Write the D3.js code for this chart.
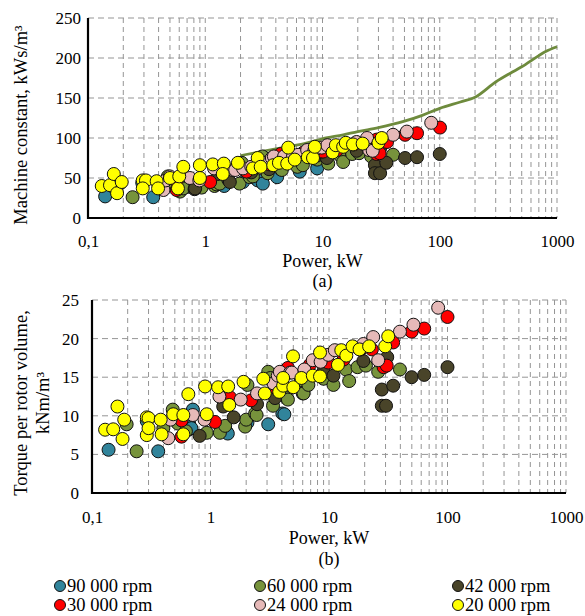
<!DOCTYPE html>
<html>
<head>
<meta charset="utf-8">
<script src="https://cdn.jsdelivr.net/npm/d3@7"></script>
<style>
  body { margin: 0; background: #fff; }
  svg { display: block; font-family: "Liberation Serif", "Times New Roman", serif; }
</style>
</head>
<body>
<svg id="chart" width="585" height="616" font-family="Liberation Serif, Times New Roman, serif"></svg>
<script>
// ---- series (rotational speed classes) ----
const seriesNames  = ["90 000 rpm", "60 000 rpm", "42 000 rpm", "30 000 rpm", "24 000 rpm", "20 000 rpm"];
const seriesColors = ["#31849B", "#77933C", "#494429", "#FF0000", "#E6B9B8", "#FFFF00"];

// ---- axis ticks ----
const xTickValues = [0.1, 1, 10, 100, 1000];
const xTickLabels = ["0,1", "1", "10", "100", "1000"];
const yTicksA = [0, 50, 100, 150, 200, 250];
const yTicksB = [0, 5, 10, 15, 20, 25];

// ---- (a) machine constant, kWs/m3 : [power kW, value] ----
const machA90 = [[0.14,27],[0.29,44],[0.36,26],[0.6,41],[0.69,49],[0.72,39],[1.45,40],[2.1,45],[2.8,47],[3.1,43],[4.1,51],[6.4,58],[9,62]];
const machA60 = [[0.19,44],[0.24,26],[0.4,41],[0.48,52],[0.53,45],[0.61,33],[0.65,37],[0.84,45],[0.93,38],[1.2,40],[1.25,42],[1.33,43],[1.96,43],[2.05,69],[2.4,51],[2.55,52],[3.07,77],[3.4,56],[4.4,61],[4.5,60],[5.8,72],[6.1,64],[6.7,69],[6.8,66],[9.0,73],[11.2,68],[13.9,79],[15,70],[17.9,80],[20.5,81],[26,77],[40,79]];
const machA42 = [[0.81,36],[0.82,37],[1.28,55],[1.57,48],[1.62,45],[2.47,57],[3.5,61],[9,78],[10.9,75],[19.6,84],[28,66],[28,56],[31,56],[31,87],[35,69],[50.6,75],[64,76],[100,80]];
const machA30 = [[0.57,35],[0.57,46],[1.1,45],[1.46,61],[2.2,59],[2.25,58],[3.55,67],[4.4,80],[6.9,82],[9.85,83],[10.1,83],[13.3,85],[18.5,92],[23,92],[28.9,80],[30.7,81],[29,98],[35.5,95],[50.6,104],[64,106],[100.5,113]];
const machA24 = [[0.44,35],[0.46,47],[0.5,52],[0.74,50],[0.89,47],[1.19,62],[1.73,60],[1.8,60],[2.1,62],[2.47,64],[3.4,70],[3.7,75],[3.85,77],[4.7,77],[5.6,77],[6.2,79],[7.4,85],[8.5,84],[9.85,88],[11,91],[19.5,95],[24,100],[25,85],[26.8,84],[40,104],[52.4,108],[84.6,119]];
const machA20 = [[0.131,40],[0.154,41],[0.166,55],[0.177,31],[0.194,45],[0.293,47],[0.312,47],[0.293,37],[0.385,46],[0.396,37],[0.5,50],[0.585,37],[0.6,52],[0.65,64],[0.9,66],[0.9,50],[1.16,67],[1.44,68],[1.41,55],[1.9,69],[2.8,75],[2.55,62],[2.97,64],[3.8,66],[4.25,69],[5.1,88],[5.0,68],[5.8,73],[7.5,76],[8.3,75],[8.6,89],[12.2,82],[13,91],[15,89],[15.8,94],[18.2,92],[22,93],[30,94],[32,100]];

// design line of machine constant, (a) : power kW / value
const limitPower = [2, 3, 5, 7, 10, 15, 20, 30, 50, 70, 100, 150, 200, 300, 400, 500, 700, 800, 1000];
const limitValue = [78, 83, 89, 93, 99, 104, 108, 113, 121, 128, 137, 145, 151, 170, 181, 189, 203, 208, 214];

// ---- (b) torque per rotor volume, kNm/m3 : [power kW, value] ----
const torqB90 = [[0.138,5.6],[0.29,9.3],[0.362,5.4],[0.65,8.2],[0.66,9.0],[0.69,8.4],[0.71,10.8],[1.36,8.0],[1.4,7.7],[2.05,9.1],[3.07,8.9],[4.04,10.3],[4.2,10.2]];
const torqB60 = [[0.196,8.9],[0.238,5.4],[0.4,8.4],[0.48,10.8],[0.53,9.0],[0.62,8.0],[0.93,7.8],[1.2,7.8],[1.33,8.7],[1.96,8.6],[2.0,9.5],[2.05,14.0],[2.38,10.3],[2.45,10.1],[3.07,15.7],[3.2,14.9],[3.37,11.3],[4.4,12.3],[4.5,12.1],[5.8,14.6],[6.0,12.9],[6.1,12.9],[6.7,14.0],[9.0,14.8],[10.9,14.0],[13.9,16.0],[14.8,14.5],[17.4,16.3],[20.5,16.5],[26,15.7],[39.7,16.0]];
const torqB42 = [[0.81,7.4],[1.28,11.2],[1.57,9.8],[2.47,11.5],[3.5,12.3],[9,15.8],[10.9,15.2],[19.5,17.1],[31,17.6],[27.9,13.4],[34.8,13.9],[27.9,11.3],[30.3,11.3],[49.8,15.0],[63.6,15.3],[100,16.3]];
const torqB30 = [[0.57,7.3],[0.57,9.4],[1.09,9.2],[1.46,12.4],[2.2,12.0],[3.55,13.6],[4.5,16.2],[6.9,16.6],[9.85,16.9],[13.3,17.3],[18.5,18.6],[23,18.6],[28.9,16.3],[30.7,16.5],[34.8,19.5],[49.8,20.9],[63.6,21.3],[100,22.8]];
const torqB24 = [[0.44,7.1],[0.46,9.5],[0.71,10.1],[0.89,9.5],[1.19,12.5],[1.8,12.1],[2.47,12.9],[3.4,14.2],[3.7,15.2],[3.85,15.7],[4.7,15.6],[4.86,15.6],[6.2,16.0],[7.3,17.2],[8.5,17.0],[9.85,17.9],[11.2,18.5],[19.5,19.3],[23.6,20.2],[26,17.2],[39.7,20.9],[51.6,21.8],[83.4,24.0]];
const torqB20 = [[0.129,8.2],[0.151,8.25],[0.164,11.2],[0.181,7.0],[0.187,9.5],[0.29,9.8],[0.3,9.7],[0.29,7.5],[0.3,8.4],[0.38,9.5],[0.387,7.6],[0.485,10.2],[0.59,10.1],[0.59,7.6],[0.65,12.8],[0.9,13.8],[0.93,10.2],[1.16,13.7],[1.41,13.8],[1.44,11.4],[1.9,14.4],[2.79,14.8],[2.87,12.9],[3.8,13.1],[4.1,13.9],[4.1,14.9],[4.97,17.7],[5.0,13.7],[5.85,14.9],[7.3,15.2],[8.4,15.1],[8.4,18.2],[11.9,16.6],[12.7,18.5],[14,17.8],[15.8,19.0],[18.1,18.6],[21.8,19.0],[29.8,19.0],[31.6,20.3]];

const panelAData = [machA90, machA60, machA42, machA30, machA24, machA20];
const panelBData = [torqB90, torqB60, torqB42, torqB30, torqB24, torqB20];

// ---- drawing ----
const svg = d3.select("#chart");
const SERIF = "Liberation Serif, Times New Roman, serif";
const FONT_TICK = 17, FONT_TITLE = 18;

function drawPanel(cfg) {
  const g = svg.append("g");
  const x = d3.scaleLog().domain([0.1, 1000]).range([cfg.left, cfg.right]);
  const y = d3.scaleLinear().domain([0, cfg.yMax]).range([cfg.bottom, cfg.top]);

  // vertical grid: every 1..9 multiple of each decade
  const vGrid = [];
  [0.1, 1, 10, 100].forEach(d => { for (let k = 1; k <= 9; k++) vGrid.push(d * k); });
  vGrid.push(1000);
  g.append("g").selectAll("line").data(vGrid.filter(v => v > 0.1 + 1e-9)).join("line")
    .attr("x1", d => x(d)).attr("x2", d => x(d))
    .attr("y1", cfg.top).attr("y2", cfg.bottom)
    .attr("stroke", "#959595").attr("stroke-width", 1).attr("stroke-dasharray", "5,4");

  // horizontal grid
  g.append("g").selectAll("line").data(cfg.yTicks.filter(v => v > 0)).join("line")
    .attr("x1", cfg.left).attr("x2", cfg.right)
    .attr("y1", d => y(d)).attr("y2", d => y(d))
    .attr("stroke", "#959595").attr("stroke-width", 1).attr("stroke-dasharray", "6,4");

  // x axis
  const xAxis = d3.axisBottom(x).tickValues(xTickValues)
    .tickFormat((d, i) => xTickLabels[i]).tickSize(0).tickPadding(cfg.xPad);
  const gx = g.append("g").attr("transform", `translate(0,${cfg.bottom})`).call(xAxis);
  gx.attr("font-family", SERIF).attr("font-size", FONT_TICK);
  gx.select(".domain").remove();
  gx.selectAll("text").attr("fill", "#000");

  // y axis
  const yAxis = d3.axisLeft(y).tickValues(cfg.yTicks).tickSize(0).tickPadding(cfg.yPad);
  const gy = g.append("g").attr("transform", `translate(${cfg.left},0)`).call(yAxis);
  gy.attr("font-family", SERIF).attr("font-size", FONT_TICK);
  gy.select(".domain").remove();
  gy.selectAll("text").attr("fill", "#000");

  // optional line
  if (cfg.line) {
    const pts = cfg.line.x.map((p, i) => [p, cfg.line.y[i]]);
    g.append("path").datum(pts)
      .attr("d", d3.line().x(d => x(d[0])).y(d => y(d[1])).curve(d3.curveMonotoneX))
      .attr("fill", "none").attr("stroke", "#6E8B3D").attr("stroke-width", 2.8);
  }

  // scatter series
  cfg.data.forEach((ser, si) => {
    g.append("g").selectAll("circle").data(ser).join("circle")
      .attr("cx", d => x(d[0])).attr("cy", d => y(d[1])).attr("r", 6.5)
      .attr("fill", seriesColors[si]).attr("stroke", "#111").attr("stroke-width", 1);
  });

  // axis lines
  g.append("line").attr("x1", cfg.left).attr("x2", cfg.left).attr("y1", cfg.top).attr("y2", cfg.bottom + 1)
    .attr("stroke", "#000").attr("stroke-width", 2.2);
  g.append("line").attr("x1", cfg.left - 1).attr("x2", cfg.right).attr("y1", cfg.bottom).attr("y2", cfg.bottom)
    .attr("stroke", "#000").attr("stroke-width", 2.2);

  // x title and panel tag
  const cx = (cfg.left + cfg.right) / 2;
  g.append("text").attr("x", cx).attr("y", cfg.xTitleY).attr("text-anchor", "middle")
    .attr("font-family", SERIF).attr("font-size", FONT_TITLE).text("Power, kW");
  g.append("text").attr("x", cx).attr("y", cfg.tagY).attr("text-anchor", "middle")
    .attr("font-family", SERIF).attr("font-size", FONT_TITLE).text(cfg.tag);

  // y title lines
  cfg.yTitle.forEach((t, i) => {
    g.append("text")
      .attr("transform", `translate(${cfg.yTitleX[i]},${cfg.yTitleY}) rotate(-90)`)
      .attr("text-anchor", "middle").attr("dominant-baseline", "central")
      .attr("font-family", SERIF).attr("font-size", FONT_TITLE + 0.5).text(t);
  });
}

drawPanel({
  left: 88, right: 557, top: 18, bottom: 218, yMax: 250, yTicks: yTicksA, yPad: 7, xPad: 16.5,
  data: panelAData, line: { x: limitPower, y: limitValue },
  xTitleY: 267, tagY: 287, tag: "(a)",
  yTitle: ["Machine constant, kWs/m³"], yTitleX: [21], yTitleY: 125
});

drawPanel({
  left: 92, right: 566, top: 300, bottom: 493, yMax: 25, yTicks: yTicksB, yPad: 13, xPad: 17.5,
  data: panelBData, line: null,
  xTitleY: 544, tagY: 565, tag: "(b)",
  yTitle: ["Torque per rotor volume,", "kNm/m³"], yTitleX: [21, 43], yTitleY: 403
});

// ---- legend ----
const legendX = [60, 260, 458];
const legendY = [586, 605];
const legend = svg.append("g").attr("font-family", SERIF);
seriesNames.forEach((name, i) => {
  const lx = legendX[i % 3], ly = legendY[Math.floor(i / 3)];
  legend.append("circle").attr("cx", lx).attr("cy", ly).attr("r", 5.5)
    .attr("fill", seriesColors[i]).attr("stroke", "#111").attr("stroke-width", 1);
  legend.append("text").attr("x", lx + 7).attr("y", ly).attr("dominant-baseline", "central")
    .attr("font-size", FONT_TITLE + 0.5).text(name);
});
</script>
</body>
</html>
